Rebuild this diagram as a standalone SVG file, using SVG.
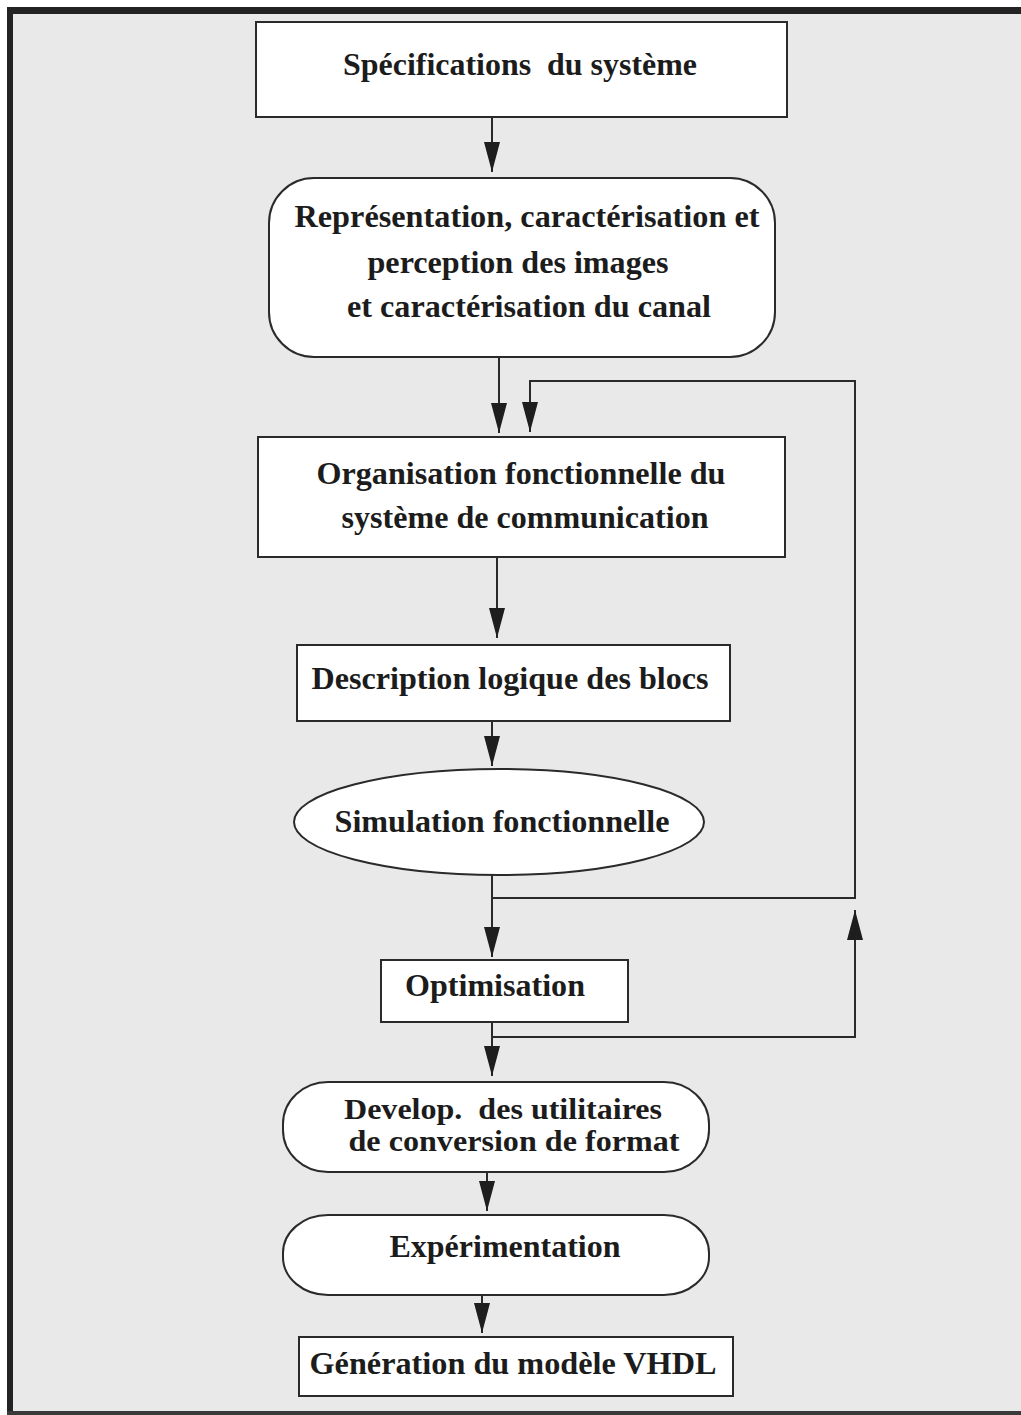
<svg xmlns="http://www.w3.org/2000/svg" width="1021" height="1415" viewBox="0 0 1021 1415">
  <style>
    .box { fill: #ffffff; stroke: #2a2a2a; stroke-width: 2; }
    .lbl { font-family: "Liberation Serif", "Times New Roman", serif; font-weight: bold; font-size: 32px; fill: #1c1c1c; text-anchor: middle; }
    .tight { font-size: 29px; }
    .wire { fill: none; stroke: #2a2a2a; stroke-width: 2; }
  </style>
  <defs>
    <marker id="arrow" viewBox="0 0 30 16" refX="30" refY="8" markerWidth="30" markerHeight="16" markerUnits="userSpaceOnUse" orient="auto">
      <path d="M0,0 L30,8 L0,16 Z" fill="#1e1e1e"/>
    </marker>
  </defs>

  <!-- page and frame -->
  <rect x="0" y="0" width="1021" height="1415" fill="#ffffff"/>
  <rect x="13" y="14" width="1008" height="1398" fill="#e9e9e9"/>
  <rect x="7" y="7" width="1014" height="7" fill="#232323"/>
  <rect x="7" y="7" width="6" height="1408" fill="#232323"/>
  <rect x="7" y="1411" width="1014" height="4" fill="#3a3a3a"/>

  <!-- connectors -->
  <g id="connectors">
    <line class="wire" x1="492" y1="117" x2="492" y2="172" marker-end="url(#arrow)"/>
    <line class="wire" x1="499" y1="357" x2="499" y2="433" marker-end="url(#arrow)"/>
    <line class="wire" x1="497" y1="557" x2="497" y2="638" marker-end="url(#arrow)"/>
    <line class="wire" x1="492" y1="721" x2="492" y2="766" marker-end="url(#arrow)"/>
    <line class="wire" x1="492" y1="875" x2="492" y2="957" marker-end="url(#arrow)"/>
    <path class="wire" d="M492,898 H855 V381 H530 V432" marker-end="url(#arrow)"/>
    <line class="wire" x1="492" y1="1022" x2="492" y2="1076" marker-end="url(#arrow)"/>
    <path class="wire" d="M492,1037 H855 V910" marker-end="url(#arrow)"/>
    <line class="wire" x1="487" y1="1172" x2="487" y2="1211" marker-end="url(#arrow)"/>
    <line class="wire" x1="482" y1="1295" x2="482" y2="1333" marker-end="url(#arrow)"/>
  </g>

  <!-- nodes -->
  <g id="specifications">
    <rect class="box" x="256" y="22" width="531" height="95"/>
    <text class="lbl" x="520" y="75" textLength="354" lengthAdjust="spacingAndGlyphs" xml:space="preserve">Spécifications  du système</text>
  </g>

  <g id="representation">
    <rect class="box" x="269" y="178" width="506" height="179" rx="45" ry="45"/>
    <text class="lbl" x="527" y="227" textLength="465" lengthAdjust="spacingAndGlyphs">Représentation, caractérisation et</text>
    <text class="lbl" x="518" y="273" textLength="301" lengthAdjust="spacingAndGlyphs">perception des images</text>
    <text class="lbl" x="529" y="317" textLength="364" lengthAdjust="spacingAndGlyphs">et caractérisation du canal</text>
  </g>

  <g id="organisation">
    <rect class="box" x="258" y="437" width="527" height="120"/>
    <text class="lbl" x="521" y="484" textLength="409" lengthAdjust="spacingAndGlyphs">Organisation fonctionnelle du</text>
    <text class="lbl" x="525" y="528" textLength="367" lengthAdjust="spacingAndGlyphs">système de communication</text>
  </g>

  <g id="description">
    <rect class="box" x="297" y="645" width="433" height="76"/>
    <text class="lbl" x="510" y="689" textLength="397" lengthAdjust="spacingAndGlyphs">Description logique des blocs</text>
  </g>

  <g id="simulation">
    <ellipse class="box" cx="499" cy="822" rx="205" ry="53"/>
    <text class="lbl" x="502" y="832" textLength="335" lengthAdjust="spacingAndGlyphs">Simulation fonctionnelle</text>
  </g>

  <g id="optimisation">
    <rect class="box" x="381" y="960" width="247" height="62"/>
    <text class="lbl" x="495" y="996" textLength="180" lengthAdjust="spacingAndGlyphs">Optimisation</text>
  </g>

  <g id="utilitaires">
    <rect class="box" x="283" y="1082" width="426" height="90" rx="45" ry="42"/>
    <text class="lbl tight" x="503" y="1119" textLength="318" lengthAdjust="spacingAndGlyphs" xml:space="preserve">Develop.  des utilitaires</text>
    <text class="lbl tight" x="514" y="1151" textLength="331" lengthAdjust="spacingAndGlyphs">de conversion de format</text>
  </g>

  <g id="experimentation">
    <rect class="box" x="283" y="1215" width="426" height="80" rx="45" ry="38"/>
    <text class="lbl" x="505" y="1257" textLength="231" lengthAdjust="spacingAndGlyphs">Expérimentation</text>
  </g>

  <g id="vhdl">
    <rect class="box" x="299" y="1337" width="434" height="59"/>
    <text class="lbl" x="513" y="1374" textLength="407" lengthAdjust="spacingAndGlyphs">Génération du modèle VHDL</text>
  </g>
</svg>
